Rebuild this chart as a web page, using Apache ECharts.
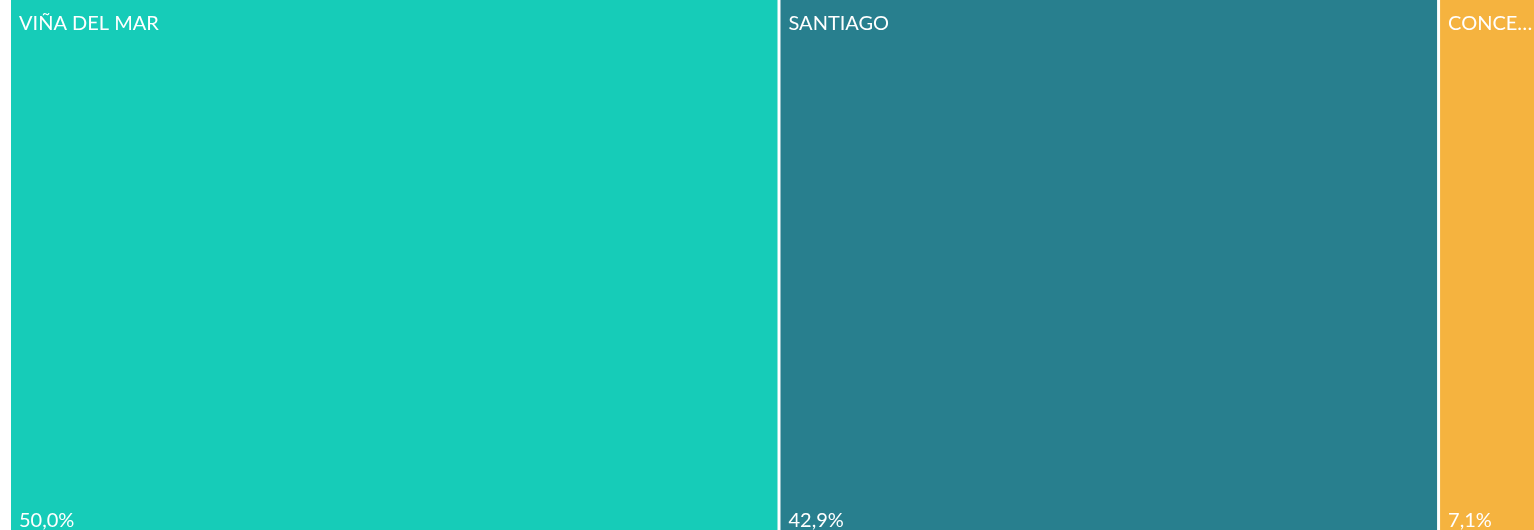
<!DOCTYPE html>
<html>
<head>
<meta charset="utf-8">
<script src="https://cdn.jsdelivr.net/npm/echarts@6/dist/echarts.min.js"></script>
<style>
  html, body { margin: 0; padding: 0; background: #fff; }
  #chart { width: 1534px; height: 530px; }
</style>
</head>
<body>
<div id="chart"></div>
<script>
  // ciudades y valores
  const cities = ['VIÑA DEL MAR', 'SANTIAGO', 'CONCEPCIÓN']
  const values = [7, 6, 1]
  const colors = ['#16CCB8', '#287F8E', '#F5B33F']

  const total = values.reduce((a, b) => a + b, 0)
  const pct = v => (v / total * 100).toFixed(1).replace('.', ',') + '%'

  const data = cities.map((c, i) => ({
    name: c,
    value: values[i],
    itemStyle: { color: colors[i] }
  }))

  const base = {
    type: 'treemap',
    left: 11,
    top: 0,
    width: 1536,
    height: 530,
    roam: false,
    nodeClick: false,
    breadcrumb: { show: false },
    animation: false,
    levels: [{ itemStyle: { gapWidth: 3, borderWidth: 0 } }]
  }

  const chart = echarts.init(document.getElementById('chart'))
  chart.setOption({
    backgroundColor: '#fff',
    series: [
      Object.assign({}, base, {
        data: data,
        label: {
          show: true,
          position: 'insideTopLeft',
          padding: [14, 11, 0, 8],
          fontFamily: 'Lato',
          fontSize: 20,
          color: '#fff',
          overflow: 'truncate',
          ellipsis: '…',
          formatter: '{b}'
        }
      }),
      // segunda capa solo para los porcentajes abajo
      Object.assign({}, base, {
        silent: true,
        data: data.map(d => ({
          name: d.name,
          value: d.value,
          itemStyle: { color: 'rgba(0,0,0,0)' }
        })),
        label: {
          show: true,
          position: 'insideBottomLeft',
          padding: [0, 3, -1, 8],
          fontFamily: 'Lato',
          fontSize: 20,
          color: '#fff',
          formatter: p => pct(p.value)
        }
      })
    ]
  })
</script>
</body>
</html>
